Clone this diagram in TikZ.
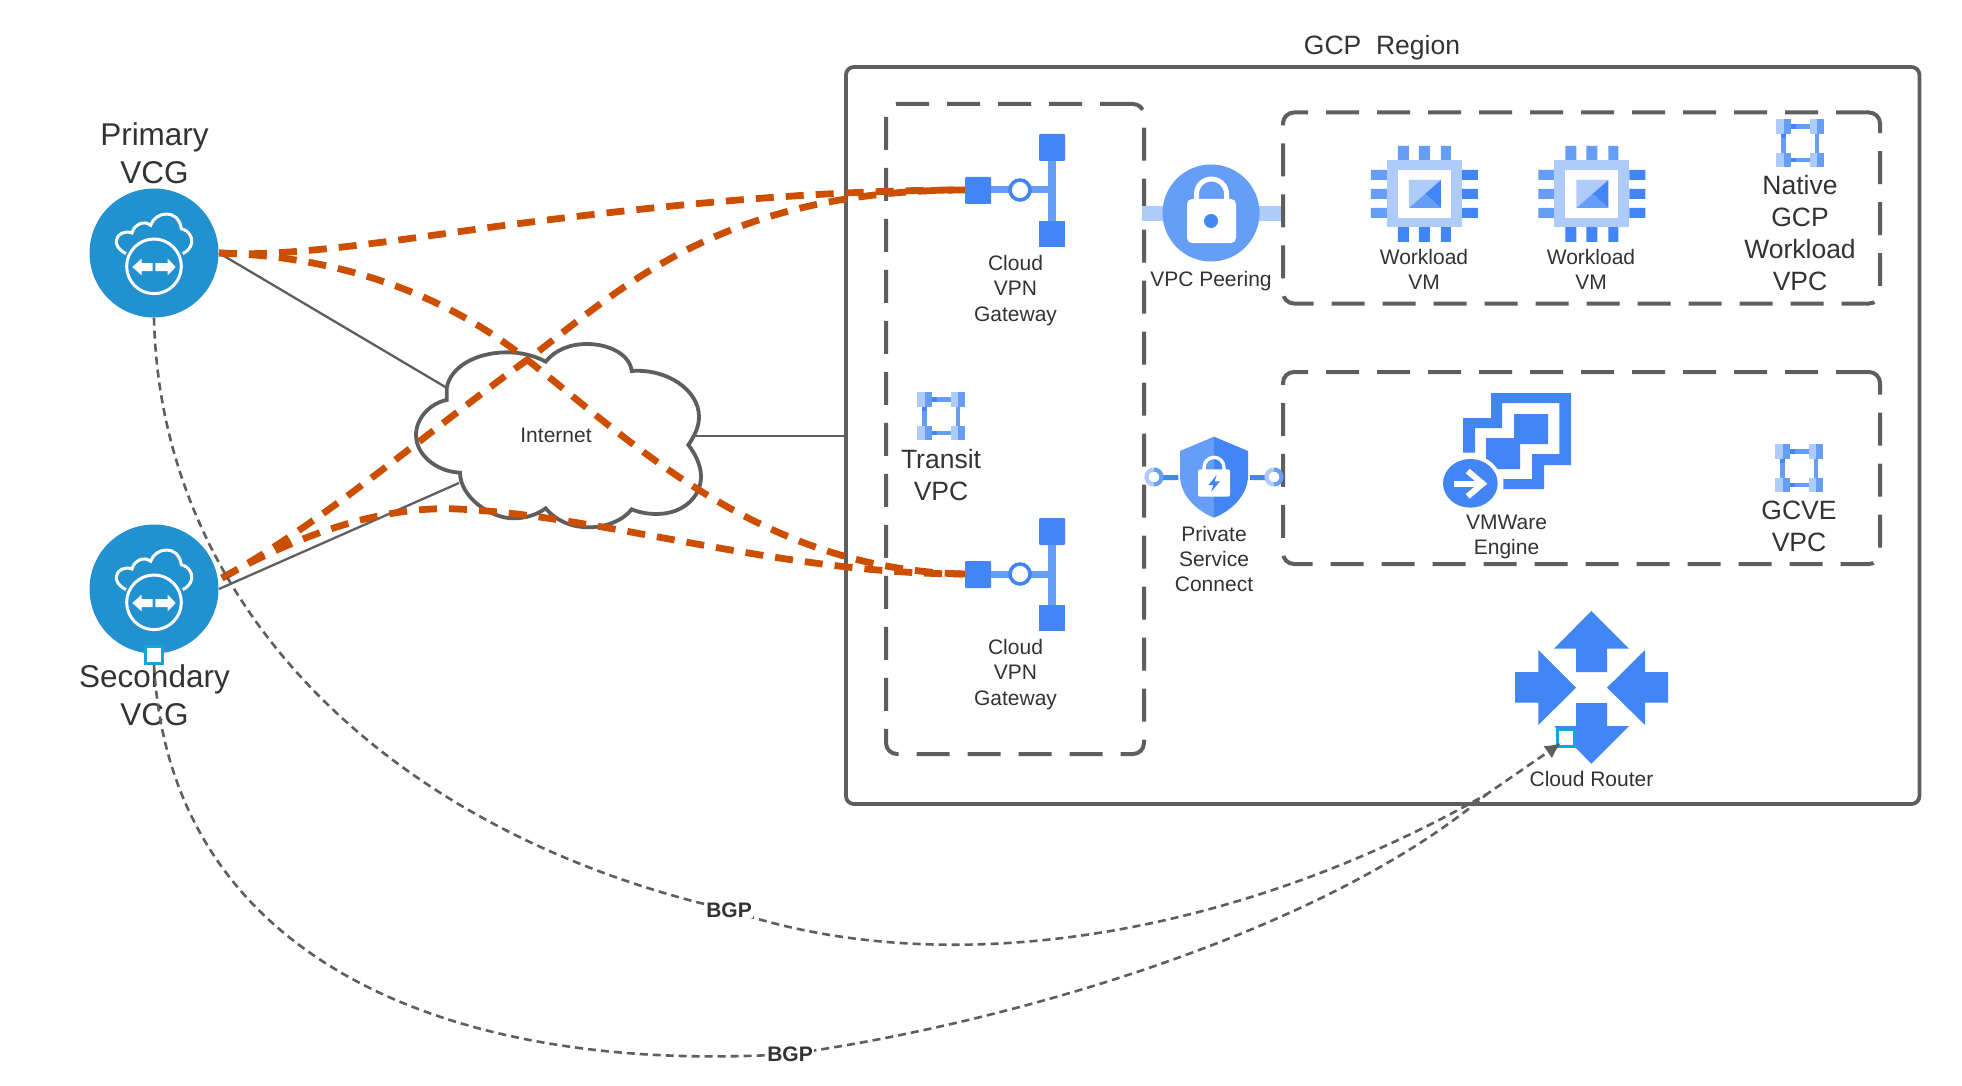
\documentclass[tikz,border=0pt]{standalone}
\usepackage{fontspec}
\setmainfont{Liberation Sans}
\usetikzlibrary{arrows.meta}
\definecolor{gblue}{HTML}{4285F4}
\definecolor{gmid}{HTML}{669DF6}
\definecolor{glight}{HTML}{AECBFA}
\definecolor{vcgblue}{HTML}{2291CF}
\definecolor{linegray}{HTML}{5E5E5E}
\definecolor{txt}{HTML}{333333}
\definecolor{vpnorange}{HTML}{CC4E00}
\definecolor{portcyan}{HTML}{12A5E0}
\tikzset{
  txtbig/.style={text=txt,font=\fontsize{31.5}{38}\selectfont,align=center,inner sep=0pt},
  txtmid/.style={text=txt,font=\fontsize{26.5}{32}\selectfont,align=center,inner sep=0pt},
  txtsm/.style={text=txt,font=\fontsize{21}{25.3}\selectfont,align=center,inner sep=0pt},
  bgplabel/.style={text=txt,font=\fontsize{21}{25}\selectfont\bfseries,fill=white,inner sep=1pt},
  regionbox/.style={draw=linegray,line width=3.8pt,rounded corners=8pt,inner sep=0pt},
  dashbox/.style={draw=linegray,line width=4pt,rounded corners=11pt,dash pattern=on 33pt off 18pt,inner sep=0pt},
  thinlink/.style={draw=linegray,line width=2.3pt},
  vpnlink/.style={draw=vpnorange,line width=6.8pt,dash pattern=on 18pt off 12pt},
  bgplink/.style={draw=linegray,line width=2.6pt,dash pattern=on 8pt off 5pt},
  portbox/.style={draw=portcyan,fill=white,line width=2.6pt,minimum size=17pt,inner sep=0pt},
  vcgdisc/.style={fill=vcgblue,circle,minimum size=129pt,inner sep=0pt},
  vcgicon/.pic={
    \begin{scope}[x=0.33333pt,y=-0.33333pt,shift={(-462,-520)}]
      \draw[white,line width=3pt] (378,522) .. controls (355,510) and (347,495) .. (349,482)
        .. controls (352,462) and (375,452) .. (396,460)
        .. controls (402,435) and (432,420) .. (452,437)
        .. controls (465,395) and (535,385) .. (544,447)
        .. controls (565,452) and (578,470) .. (575,490)
        .. controls (572,505) and (562,515) .. (548,522);
      \draw[white,line width=3pt] (462,560) circle[radius=82];
      \fill[white] (397,562) -- (425,537) -- (425,550) -- (458,550) -- (458,574) -- (425,574) -- (425,587) -- cycle;
      \fill[white] (527,562) -- (503,537) -- (503,550) -- (466,550) -- (466,574) -- (503,574) -- (503,587) -- cycle;
    \end{scope}
  },
  gwicon/.pic={
    \fill[gmid] (26,-3.5) rectangle (83,3.5);
    \fill[gmid] (83,-43) rectangle (91,43);
    \fill[gblue,rounded corners=1pt] (0,-13) rectangle (26,14);
    \fill[gblue,rounded corners=1pt] (74,-56) rectangle (100,-29);
    \fill[gblue] (74,31) rectangle (100,57);
    \draw[gblue,fill=white,line width=3.6pt] (55,0) circle[radius=10];
  },
  vpcicon/.pic={
    \fill[glight] (-24,-24) rectangle (-16,-9);
    \fill[gmid] (-16,-24) rectangle (-9,-9);
    \fill[glight] (10,-24) rectangle (17,-9);
    \fill[gmid] (17,-24) rectangle (24,-9);
    \fill[glight] (-24,10) rectangle (-16,24);
    \fill[gmid] (-16,10) rectangle (-9,24);
    \fill[glight] (10,10) rectangle (17,24);
    \fill[gmid] (17,10) rectangle (24,24);
    \fill[gmid] (-9,-19) rectangle (10,-14);
    \fill[gblue] (-9,-19) rectangle (-4,-14);
    \fill[gmid] (-9,15) rectangle (10,19);
    \fill[gblue] (-9,15) rectangle (-4,19);
    \fill[gmid] (-19,-9) rectangle (-14,10);
    \fill[gblue] (-19,-9) rectangle (-14,-5);
    \fill[gmid] (15,-9) rectangle (19,10);
  },
  chipicon/.pic={
    \begin{scope}[x=0.33333pt,y=-0.33333pt,shift={(-193,-175)}]
      \fill[gmid] (114,33) rectangle (147,75) (177,33) rectangle (210,75) (243,33) rectangle (273,75);
      \fill[gblue] (114,276) rectangle (147,321) (177,276) rectangle (210,321) (243,276) rectangle (273,321);
      \fill[gmid] (33,105) rectangle (81,135) (33,162) rectangle (81,192) (33,219) rectangle (81,249);
      \fill[gblue] (306,105) rectangle (354,135) (306,162) rectangle (354,192) (306,219) rectangle (354,249);
      \fill[glight] (81,75) rectangle (306,276);
      \fill[white] (114,105) rectangle (273,249);
      \fill[glight] (147,135) -- (243,135) -- (147,219) -- cycle;
      \fill[gblue] (243,135) -- (243,219) -- (195,177) -- cycle;
      \fill[gmid] (147,219) -- (195,177) -- (243,219) -- cycle;
    \end{scope}
  },
  ringicon/.pic={
    \fill[white] (0,0) circle[radius=7.5];
    \draw[glight,line width=4.2pt] (90:7.5) arc[start angle=90,end angle=270,radius=7.5];
    \draw[gmid,line width=4.2pt] (-90:7.5) arc[start angle=-90,end angle=90,radius=7.5];
  },
}
\begin{document}
\begin{tikzpicture}[x=1pt,y=-1pt]
\path[use as bounding box,fill=white] (0,0) rectangle (1962,1086);

% containers
\node[regionbox,minimum width=1073.5pt,minimum height=737pt] (region) at (1382.7,435.5) {};
\node[txtmid] (regiontitle) at (1382,47.5) {GCP\ \ Region};
\node[dashbox,minimum width=258pt,minimum height=650pt] (transitbox) at (1015,429) {};
\node[dashbox,minimum width=597pt,minimum height=191pt] (nativebox) at (1581.5,208) {};
\node[dashbox,minimum width=597pt,minimum height=192pt] (gcvebox) at (1581.5,468) {};

% anchors
\coordinate (primA) at (219,253);
\coordinate (secA) at (222,578);
\coordinate (gwa) at (965,190);
\coordinate (gwb) at (965,574);
\coordinate (cloudNW) at (447,388);
\coordinate (cloudSW) at (459,483);
\coordinate (cloudE) at (695,436);
\coordinate (regionW) at (846,436);
\coordinate (routerJoin) at (1487,794);
\coordinate (routerIn) at (1561,743);
\coordinate (bgpaPt) at (729,910);
\coordinate (bgpbPt) at (790,1054);

% VCG discs
\node[vcgdisc] (primary) at (154,253) {};
\node[vcgdisc] (secondary) at (154,589) {};
\path (primary) pic {vcgicon};
\path (secondary) pic {vcgicon};
\node[txtbig] (primarytxt) at (154.5,153) {Primary\\VCG};
\node[txtbig] (secondarytxt) at (154.5,695) {Secondary\\VCG};

% plain links
\draw[thinlink] (primA) -- (cloudNW);
\draw[thinlink] (219,589) -- (cloudSW);
\draw[thinlink] (cloudE) -- (regionW);

% internet cloud
\begin{scope}[shift={(400,320)},x=0.33333pt,y=-0.33333pt]
\draw[draw=linegray,fill=white,line width=3.8pt,line join=miter]
  (140,240) .. controls (90,250) and (48,295) .. (48,345)
  .. controls (48,405) and (110,455) .. (180,458)
  .. controls (180,530) and (270,595) .. (340,595)
  .. controls (375,595) and (410,585) .. (437,565)
  .. controls (470,605) and (520,622) .. (565,622)
  .. controls (620,622) and (670,600) .. (695,568)
  .. controls (720,578) and (745,582) .. (770,582)
  .. controls (850,582) and (903,530) .. (903,470)
  .. controls (903,435) and (885,400) .. (865,375)
  .. controls (885,345) and (897,320) .. (897,290)
  .. controls (897,210) and (800,145) .. (695,153)
  .. controls (690,105) and (630,72) .. (560,72)
  .. controls (510,72) and (465,90) .. (437,125)
  .. controls (400,105) and (360,97) .. (320,97)
  .. controls (230,97) and (150,140) .. (140,205) -- cycle;
\end{scope}
\node[txtsm] (internet) at (556,435) {Internet};

% VPN tunnels
\draw[vpnlink] (primA) .. controls (290,258) and (410,238) .. (500,226) .. controls (630,209) and (800,190) .. (gwa);
\draw[vpnlink] (primA) .. controls (300,255) and (420,275) .. (525,358) .. controls (630,440) and (760,570) .. (gwb);
\draw[vpnlink] (secA) .. controls (320,525) and (430,430) .. (527,360) .. controls (620,290) and (720,190) .. (gwa);
\draw[vpnlink] (secA) .. controls (280,545) and (370,505) .. (457,509) .. controls (600,515) and (780,574) .. (gwb);

% gateways
\path (gwa) pic {gwicon};
\path (gwb) pic {gwicon};
\node[txtsm] (gwatxt) at (1015.5,290.5) {Cloud\\VPN\\Gateway};
\node[txtsm] (gwbtxt) at (1015.5,674.5) {Cloud\\VPN\\Gateway};

% VPC icons
\path (941,416) pic {vpcicon};
\node[txtmid] (transittxt) at (941,475) {Transit\\VPC};
\path (1800,143) pic {vpcicon};
\node[txtmid] (nativetxt) at (1800,233) {Native\\GCP\\Workload\\VPC};
\path (1799,468) pic {vpcicon};
\node[txtmid] (gcvetxt) at (1799,526) {GCVE\\VPC};

% VPC peering
\fill[glight] (1142,206) rectangle (1281,221);
\node[circle,fill=gmid,minimum size=97pt,inner sep=0pt] (peering) at (1211,213) {};
\draw[white,line width=5pt] (1196.5,205) -- (1196.5,194) arc[start angle=180,end angle=360,radius=15] -- (1226.5,205);
\fill[white,rounded corners=5pt] (1187,199) rectangle (1236,243);
\fill[gblue] (1211,221) circle[radius=7];
\node[txtsm] (peeringtxt) at (1211,281) {VPC Peering};

% chips
\path (1424.3,193.3) pic {chipicon};
\path (1591.8,193.3) pic {chipicon};
\node[txtsm] (vma) at (1424,269.5) {Workload\\VM};
\node[txtsm] (vmb) at (1591,269.5) {Workload\\VM};

% private service connect
\begin{scope}[shift={(1130,380)},x=0.33333pt,y=-0.33333pt]
\fill[gblue] (98,285) rectangle (145,300) (360,285) rectangle (405,300);
\fill[gmid] (252,170) -- (150,213) -- (150,290) .. controls (152,350) and (205,395) .. (252,413) -- cycle;
\fill[gblue] (252,170) -- (354,213) -- (354,290) .. controls (352,350) and (299,395) .. (252,413) -- cycle;
\draw[white,line width=3.4pt] (222,275) -- (222,262) arc[start angle=180,end angle=360,radius=30] -- (282,275);
\fill[white,rounded corners=2pt] (204,268) rectangle (300,350);
\fill[gblue] (260,285) -- (235,315) -- (250,315) -- (243,336) -- (270,304) -- (254,304) -- cycle;
\end{scope}
\path (1154,477) pic {ringicon};
\path (1274,477) pic {ringicon};
\node[txtsm] (psctxt) at (1214,559) {Private\\Service\\Connect};

% VMware engine
\begin{scope}[shift={(1130,380)},x=0.33333pt,y=-0.33333pt]
\fill[gblue] (1083,39) -- (1323,39) -- (1323,255) -- (1242,255) -- (1242,327) -- (1120,327) -- (1120,297) -- (1206,297) -- (1206,222) -- (1288,222) -- (1288,69) -- (1116,69) -- (1116,144) -- (1035,144) -- (1035,218) -- (999,218) -- (999,114) -- (1083,114) -- cycle;
\fill[gblue] (1068,174) -- (1152,174) -- (1152,102) -- (1254,102) -- (1254,192) -- (1170,192) -- (1170,267) -- (1068,267) -- cycle;
\fill[white] (1021,310) ellipse[x radius=94,y radius=85];
\fill[gblue] (1021,310) ellipse[x radius=82,y radius=73];
\draw[white,line width=6pt] (972,311) -- (1058,311);
\draw[white,line width=6pt] (1013,273) -- (1058,311) -- (1013,349);
\end{scope}
\node[txtsm] (vmwtxt) at (1506.5,535.5) {\strut\\[-25.3pt]VMWare\\Engine};

% cloud router
\begin{scope}[shift={(1480,600)},x=0.33333pt,y=-0.33333pt]
\fill[gblue] (334,33) -- (447,146) -- (381,146) -- (381,216) -- (288,216) -- (288,146) -- (222,146) -- cycle;
\fill[gblue] (334,491) -- (447,378) -- (381,378) -- (381,309) -- (288,309) -- (288,378) -- (222,378) -- cycle;
\fill[gblue] (288,263) -- (175,150) -- (175,216) -- (105,216) -- (105,308) -- (175,308) -- (175,375) -- cycle;
\fill[gblue] (381,263) -- (495,150) -- (495,216) -- (564,216) -- (564,308) -- (495,308) -- (495,375) -- cycle;
\end{scope}
\node[portbox] (routerport) at (1566,738) {};
\node[txtsm] (routertxt) at (1591.5,779) {Cloud Router};
\node[portbox] (secport) at (154,655) {};

% BGP sessions
\draw[bgplink,-{Latex[length=16pt,width=15pt]}] (primary.south) .. controls (160,600) and (380,830) .. (bgpaPt) .. controls (950,985) and (1240,935) .. (routerJoin) -- (routerIn);
\draw[bgplink] (secport.south) .. controls (170,960) and (450,1075) .. (bgpbPt) .. controls (1000,1025) and (1320,935) .. (routerJoin);
\node[bgplabel] (bgpa) at (bgpaPt) {BGP};
\node[bgplabel] (bgpb) at (bgpbPt) {BGP};
\end{tikzpicture}
\end{document}
